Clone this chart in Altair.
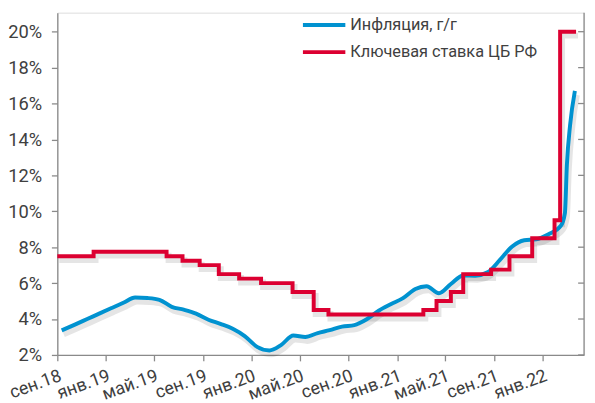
import altair as alt
import pandas as pd

# ---- data ----
infl_dates = ["2018-09-12", "2018-10-15", "2018-11-15", "2018-12-15", "2019-01-15", "2019-02-15",
              "2019-03-15", "2019-04-15", "2019-05-15", "2019-06-15", "2019-07-15", "2019-08-15",
              "2019-09-15", "2019-10-15", "2019-11-15", "2019-12-15", "2020-01-15", "2020-02-15",
              "2020-03-15", "2020-04-15", "2020-05-15", "2020-06-15", "2020-07-15", "2020-08-15",
              "2020-09-15", "2020-10-15", "2020-11-15", "2020-12-15", "2021-01-15", "2021-02-15",
              "2021-03-15", "2021-04-15", "2021-05-15", "2021-06-15", "2021-07-15", "2021-08-15",
              "2021-09-15", "2021-10-15", "2021-11-15", "2021-12-15", "2022-01-15", "2022-02-15",
              "2022-02-25", "2022-03-02", "2022-03-10", "2022-03-22"]
infl_values = [3.37, 3.69, 4.0, 4.3, 4.61, 4.92,
               5.2, 5.17, 5.07, 4.68, 4.52, 4.3,
               3.96, 3.73, 3.46, 3.05, 2.45, 2.25,
               2.55, 3.08, 3.0, 3.22, 3.38, 3.58,
               3.66, 3.97, 4.46, 4.82, 5.16, 5.67,
               5.82, 5.43, 5.95, 6.42, 6.41, 6.6,
               7.29, 8.03, 8.39, 8.44, 8.72, 9.2,
               9.9, 12.6, 14.8, 16.7]

rate_dates = ["2018-09-01", "2018-12-01", "2019-06-02", "2019-07-12", "2019-08-24", "2019-10-11",
              "2019-12-01", "2020-01-25", "2020-04-13", "2020-06-05", "2020-07-12", "2021-03-07",
              "2021-04-09", "2021-05-15", "2021-06-15", "2021-08-24", "2021-10-09", "2021-12-05",
              "2022-01-30", "2022-02-13", "2022-03-25"]
rate_values = [7.5, 7.75, 7.5, 7.25, 7.0, 6.5,
               6.25, 6.0, 5.5, 4.5, 4.25, 4.5,
               5.0, 5.5, 6.5, 6.75, 7.5, 8.5,
               9.5, 20.0, 20.0]

tick_dates = ["2018-09-01", "2019-01-01", "2019-05-01", "2019-09-01", "2020-01-01", "2020-05-01",
              "2020-09-01", "2021-01-01", "2021-05-01", "2021-09-01", "2022-01-01"]
y_ticks = [2, 4, 6, 8, 10, 12, 14, 16, 18, 20]
series_names = ["Инфляция, г/г", "Ключевая ставка ЦБ РФ"]
series_colors = ["#0092D0", "#DC0031"]

# ---- build ----
def ms(s):
    return int(pd.Timestamp(s, tz="UTC").timestamp() * 1000)

W, H = 534, 347
FONT = "Roboto"
TXT = "#404040"
AX = "#8a8a8a"

infl = pd.DataFrame({"date": infl_dates, "value": infl_values, "series": series_names[0]})
rate = pd.DataFrame({"date": rate_dates, "value": rate_values, "series": series_names[1]})
yt = pd.DataFrame({"value": y_ticks})
one = pd.DataFrame({"k": [0]})

x_scale = alt.Scale(type="utc", domain=[ms("2018-09-01"), ms("2022-04-14")], nice=False)
y_scale = alt.Scale(domain=[2, 21.06], nice=False, zero=False)

x_axis = alt.Axis(
    values=[ms(d) for d in tick_dates],
    labelExpr="(utcmonth(datum.value)==8 ? 'сен.' : utcmonth(datum.value)==0 ? 'янв.' : 'май.') + utcFormat(datum.value, '%y')",
    title=None, grid=False, tickSize=6, tickColor=AX, domainColor=AX, domainWidth=1.3, tickWidth=1.3,
    labelAngle=340, labelAlign="right", labelBaseline="top", labelPadding=6, labelOverlap=False,
    labelFont=FONT, labelFontSize=18, labelColor=TXT,
)
y_axis = alt.Axis(
    values=y_ticks, labelExpr="datum.value + '%'", title=None, grid=False,
    tickSize=6, tickColor=AX, domainColor=AX, domainWidth=1.3, tickWidth=1.3,
    labelPadding=10, labelFont=FONT, labelFontSize=18.5, labelColor=TXT, labelOverlap=False,
)

X = alt.X("date:T", scale=x_scale, axis=x_axis)
Y = alt.Y("value:Q", scale=y_scale, axis=y_axis)


def shadow(df, interp):
    return alt.Chart(df).mark_line(
        color="#000000", opacity=0.10, strokeWidth=6, xOffset=2, yOffset=4, interpolate=interp
    ).encode(x=X, y=Y)


infl_line = alt.Chart(infl).mark_line(strokeWidth=4, interpolate="monotone", color=series_colors[0]).encode(x=X, y=Y)
rate_line = alt.Chart(rate).mark_line(strokeWidth=4, interpolate="step-after", color=series_colors[1]).encode(x=X, y=Y)

right_ticks = alt.Chart(yt).mark_rule(color=AX, strokeWidth=1.3).encode(
    y=Y, x=alt.value(W - 6), x2=alt.value(W)
)
right_border = alt.Chart(one).mark_rule(color=AX, strokeWidth=1.3).encode(
    x=alt.value(W), y=alt.value(0), y2=alt.value(H)
)

# manual legend (inside the plot, top)
legend_layers = []
for i, (name, col) in enumerate(zip(series_names, series_colors)):
    ly = 12.5 + 27.5 * i
    legend_layers.append(
        alt.Chart(one).mark_rule(color=col, strokeWidth=4).encode(
            x=alt.value(249), x2=alt.value(292), y=alt.value(ly)
        )
    )
    legend_layers.append(
        alt.Chart(one).mark_text(
            align="left", baseline="middle", font=FONT, fontSize=16.5, color=TXT
        ).encode(x=alt.value(297), y=alt.value(ly), text=alt.value(name))
    )

chart = alt.layer(
    shadow(infl, "monotone"), shadow(rate, "step-after"),
    infl_line, rate_line, right_ticks, right_border, *legend_layers,
).properties(
    width=W, height=H,
    padding={"left": 50, "top": 2, "right": 3, "bottom": 46},
    autosize=alt.AutoSizeParams(type="none"),
).configure_view(stroke=None).configure(font=FONT)

chart.save("out.html", embed_options={"renderer": "svg", "actions": False})
